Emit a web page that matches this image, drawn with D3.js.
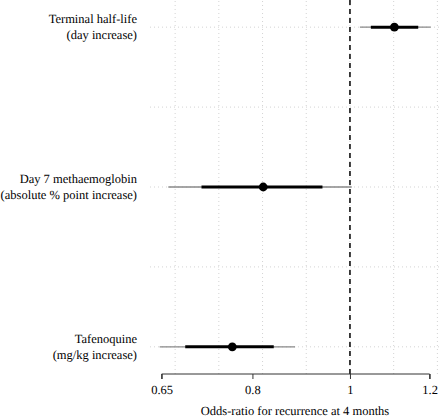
<!DOCTYPE html>
<html><head><meta charset="utf-8">
<script src="https://cdn.jsdelivr.net/npm/d3@7"></script>
<style>body{margin:0;background:#fff}svg{display:block}svg text{text-rendering:geometricPrecision}</style>
</head><body><svg id="c" width="440" height="419"></svg>
<script>
const labels = [["Terminal half-life","(day increase)"],["Day 7 methaemoglobin","(absolute % point increase)"],["Tafenoquine","(mg/kg increase)"]];
const rows = [3, 2, 1];
const estimate = [1.107, 0.820, 0.764];
const lowerInner = [1.049, 0.712, 0.686];
const upperInner = [1.169, 0.939, 0.840];
const lowerOuter = [1.023, 0.660, 0.647];
const upperOuter = [1.203, 1.004, 0.882];
const xTicks = [0.65, 0.8, 1, 1.2];
const xGridLog = [-0.4, -0.3, -0.2, -0.1, 0, 0.1, 0.2];
const yGrid = [1, 1.5, 2, 2.5, 3];
const xLabel = "Odds-ratio for recurrence at 4 months";

const FONT = "Liberation Serif";
const svg = d3.select("#c").attr("font-family", FONT);
const x = d3.scaleLog().domain([Math.exp(-0.4575), Math.exp(0.206)]).range([150, 440]);
const y = d3.scaleLinear().domain([0.83, 3.17]).range([374, 0]);
const fs = 12.5;

// grid
svg.append("g").selectAll("line").data(xGridLog).join("line")
  .attr("x1", d => x(Math.exp(d))).attr("x2", d => x(Math.exp(d)))
  .attr("y1", y(0.83)).attr("y2", y(3.17))
  .attr("stroke", "#d3d3d3").attr("stroke-dasharray", "1,3");
svg.append("g").selectAll("line").data(yGrid).join("line")
  .attr("x1", x.range()[0]).attr("x2", x.range()[1])
  .attr("y1", d => y(d)).attr("y2", d => y(d))
  .attr("stroke", "#d3d3d3").attr("stroke-dasharray", "1,3");

// reference line
svg.append("line").attr("x1", x(1)).attr("x2", x(1)).attr("y1", 0).attr("y2", y(0.83))
  .attr("stroke", "#000").attr("stroke-width", 1.5).attr("stroke-dasharray", "5,4");

const g = svg.append("g");
rows.forEach((r, i) => {
  g.append("line").attr("x1", x(lowerOuter[i])).attr("x2", x(upperOuter[i]))
    .attr("y1", y(r)).attr("y2", y(r)).attr("stroke", "#888").attr("stroke-width", 1.3);
  g.append("line").attr("x1", x(lowerInner[i])).attr("x2", x(upperInner[i]))
    .attr("y1", y(r)).attr("y2", y(r)).attr("stroke", "#000").attr("stroke-width", 3);
  g.append("circle").attr("cx", x(estimate[i])).attr("cy", y(r)).attr("r", 4.4).attr("fill", "#000");
  const t = svg.append("text").attr("text-anchor", "end").attr("font-size", fs)
    .attr("font-family", FONT).attr("fill", "#000");
  t.append("tspan").attr("x", 137).attr("y", y(r) - 4).text(labels[i][0]);
  t.append("tspan").attr("x", 137).attr("y", y(r) + 12).text(labels[i][1]);
});

// axis
const ax = svg.append("g").attr("transform", `translate(0,${y(0.83)})`)
  .call(d3.axisBottom(x).tickValues(xTicks).tickFormat(d3.format("")).tickSize(5).tickPadding(3));
ax.attr("font-family", FONT).attr("font-size", fs);
ax.select(".domain").attr("d", `M${x(0.65)},5V0H${x(1.2)}V5`).attr("stroke", "#333");
ax.selectAll(".tick line").attr("stroke", "#333");
ax.selectAll(".tick text").attr("font-size", fs).attr("font-family", FONT).attr("fill", "#000").attr("dy", "0.95em");
svg.append("text").attr("x", 295).attr("y", 415).attr("text-anchor", "middle")
  .attr("font-family", FONT).attr("font-size", fs).attr("fill", "#000").text(xLabel);
</script></body></html>
